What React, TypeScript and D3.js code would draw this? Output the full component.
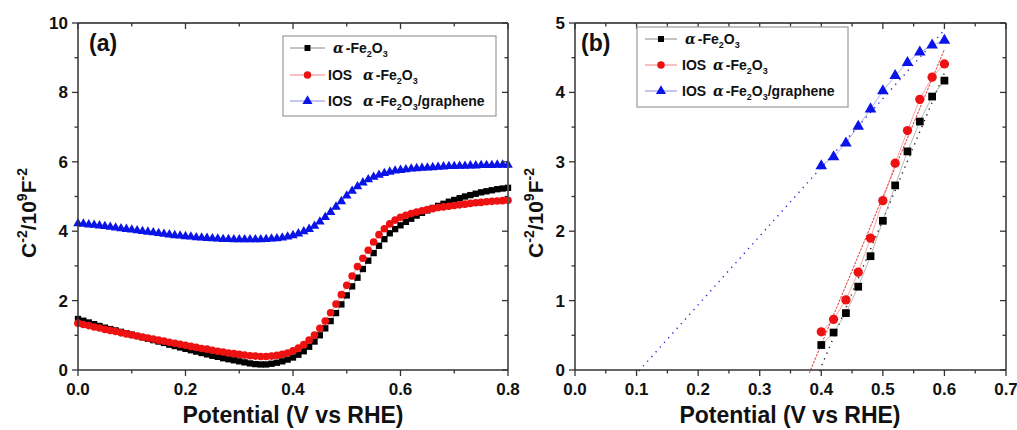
import React from "react";
import * as d3 from "d3";

// ---------- data ----------
const potentialA: number[] = d3.range(0, 81).map((i) => +(i * 0.01).toFixed(2));

const fe2o3A: number[] = [
  1.47, 1.42, 1.37, 1.32, 1.27, 1.22, 1.18, 1.14, 1.10, 1.06,
  1.02, 0.98, 0.94, 0.90, 0.86, 0.82, 0.78, 0.73, 0.69, 0.65,
  0.61, 0.57, 0.53, 0.49, 0.45, 0.41, 0.38, 0.34, 0.31, 0.28,
  0.25, 0.22, 0.19, 0.17, 0.16, 0.16, 0.18, 0.21, 0.25, 0.30,
  0.36, 0.44, 0.54, 0.67, 0.82, 1.00, 1.20, 1.41, 1.64, 1.89,
  2.15, 2.41, 2.66, 2.91, 3.15, 3.37, 3.58, 3.77, 3.94, 4.06,
  4.17, 4.27, 4.36, 4.45, 4.53, 4.60, 4.67, 4.73, 4.79, 4.85,
  4.90, 4.95, 5.00, 5.04, 5.08, 5.12, 5.15, 5.18, 5.21, 5.23,
  5.25,
];

const iosA: number[] = [
  1.35, 1.31, 1.28, 1.24, 1.21, 1.17, 1.14, 1.11, 1.07, 1.04,
  1.01, 0.98, 0.95, 0.92, 0.89, 0.86, 0.83, 0.80, 0.77, 0.74,
  0.71, 0.68, 0.65, 0.62, 0.60, 0.57, 0.54, 0.52, 0.49, 0.47,
  0.45, 0.43, 0.41, 0.40, 0.39, 0.39, 0.40, 0.42, 0.45, 0.49,
  0.55, 0.63, 0.73, 0.86, 1.01, 1.20, 1.41, 1.65, 1.90, 2.17,
  2.44, 2.71, 2.98, 3.22, 3.45, 3.69, 3.90, 4.07, 4.21, 4.32,
  4.40, 4.46, 4.51, 4.55, 4.59, 4.62, 4.65, 4.68, 4.70, 4.72,
  4.74, 4.76, 4.78, 4.80, 4.82, 4.83, 4.85, 4.86, 4.87, 4.88,
  4.89,
];

const grapheneA: number[] = [
  4.22, 4.21, 4.19, 4.18, 4.16, 4.14, 4.12, 4.10, 4.08, 4.06,
  4.04, 4.02, 4.00, 3.98, 3.96, 3.94, 3.92, 3.90, 3.88, 3.87,
  3.85, 3.84, 3.82, 3.81, 3.80, 3.79, 3.78, 3.77, 3.77, 3.76,
  3.76, 3.76, 3.76, 3.76, 3.76, 3.77, 3.78, 3.79, 3.81, 3.84,
  3.88, 3.93, 3.99, 4.06, 4.15, 4.27, 4.40, 4.55, 4.70, 4.86,
  5.02, 5.16, 5.29, 5.40, 5.49, 5.56, 5.62, 5.67, 5.71, 5.74,
  5.76, 5.78, 5.80, 5.81, 5.82, 5.83, 5.84, 5.85, 5.86, 5.87,
  5.87, 5.88, 5.88, 5.89, 5.89, 5.90, 5.90, 5.90, 5.91, 5.91,
  5.91,
];

const potentialB: number[] = [0.40, 0.42, 0.44, 0.46, 0.48, 0.50, 0.52, 0.54, 0.56, 0.58, 0.60];
const fe2o3B: number[] = [0.36, 0.54, 0.82, 1.20, 1.64, 2.15, 2.66, 3.15, 3.58, 3.94, 4.17];
const iosB: number[] = [0.55, 0.73, 1.01, 1.41, 1.90, 2.44, 2.98, 3.45, 3.90, 4.22, 4.41];
const grapheneB: number[] = [2.94, 3.07, 3.27, 3.51, 3.76, 4.02, 4.24, 4.43, 4.58, 4.68, 4.75];

// linear fit lines (start and end points) in panel (b)
const fitFe2o3: [number, number][] = [[0.393, -0.1], [0.6, 4.28]];
const fitIos: [number, number][] = [[0.378, -0.1], [0.6, 4.62]];
const fitGraphene: [number, number][] = [[0.09, -0.15], [0.6, 4.9]];

const xTicksA = [0, 0.2, 0.4, 0.6, 0.8];
const yTicksA = [0, 2, 4, 6, 8, 10];
const xTicksB = [0, 0.1, 0.2, 0.3, 0.4, 0.5, 0.6, 0.7];
const yTicksB = [0, 1, 2, 3, 4, 5];

// ---------- styling ----------
const FONT = "Arial, 'Liberation Sans', Helvetica, sans-serif";
const AXIS = "#333";

type Kind = "square" | "circle" | "triangle";
const symType = { square: d3.symbolSquare, circle: d3.symbolCircle, triangle: d3.symbolTriangle };

function Marker({ kind, x, y, size, fill }: { kind: Kind; x: number; y: number; size: number; fill: string }) {
  const p = d3.symbol().type(symType[kind]).size(size)();
  return <path d={p || ""} transform={`translate(${x},${y})`} fill={fill} />;
}

function Axes({ x, y, xTicks, yTicks, xMinor, yMinor, xFmt }: any) {
  const [x0, x1] = x.range();
  const [y0, y1] = y.range();
  const MAJ = 6, MIN = 3.5;
  return (
    <g>
      <line x1={x0} x2={x1} y1={y1} y2={y1} stroke="#222" strokeWidth={1.5} />
      <line x1={x1} x2={x1} y1={y1} y2={y0} stroke="#555" strokeWidth={1.8} />
      <line x1={x0} x2={x1} y1={y0} y2={y0} stroke={AXIS} strokeWidth={1.5} />
      <line x1={x0} x2={x0} y1={y1} y2={y0} stroke={AXIS} strokeWidth={1.5} />
      {xMinor.map((t: number, i: number) => {
        const major = xTicks.some((m: number) => Math.abs(m - t) < 1e-9);
        const L = major ? MAJ : MIN;
        return (
          <g key={"xt" + i}>
            <line x1={x(t)} x2={x(t)} y1={y0} y2={y0 + L} stroke={AXIS} strokeWidth={1.3} />
            <line x1={x(t)} x2={x(t)} y1={y1} y2={y1 + L} stroke={AXIS} strokeWidth={1.3} />
          </g>
        );
      })}
      {yMinor.map((t: number, i: number) => {
        const major = yTicks.some((m: number) => Math.abs(m - t) < 1e-9);
        const L = major ? MAJ : MIN;
        return (
          <g key={"yt" + i}>
            <line x1={x0 - L} x2={x0} y1={y(t)} y2={y(t)} stroke={AXIS} strokeWidth={1.3} />
            <line x1={x1 - L} x2={x1} y1={y(t)} y2={y(t)} stroke={AXIS} strokeWidth={1.3} />
          </g>
        );
      })}
      {xTicks.map((t: number, i: number) => (
        <text key={"xl" + i} x={x(t)} y={y0 + 25} textAnchor="middle" fontFamily={FONT} fontWeight="bold" fontSize={17} fill="#111">
          {xFmt(t)}
        </text>
      ))}
      {yTicks.map((t: number, i: number) => (
        <text key={"yl" + i} x={x0 - 10} y={y(t) + 6} textAnchor="end" fontFamily={FONT} fontWeight="bold" fontSize={17} fill="#111">
          {t}
        </text>
      ))}
    </g>
  );
}

function YTitle({ x, y }: { x: number; y: number }) {
  return (
    <text transform={`translate(${x},${y}) rotate(-90)`} textAnchor="middle" fontFamily={FONT} fontWeight="bold" fontSize={21} fill="#111">
      C<tspan dy={-9} fontSize={14}>-2</tspan>
      <tspan dy={9}>/10</tspan>
      <tspan dy={-9} fontSize={14}>9</tspan>
      <tspan dy={9}>F</tspan>
      <tspan dy={-9} fontSize={14}>-2</tspan>
    </text>
  );
}

function LegendLabel({ x, y, ios, graphene, alphaX }: { x: number; y: number; ios: boolean; graphene: boolean; alphaX: number }) {
  return (
    <text x={x} y={y} fontFamily={FONT} fontWeight="bold" fontSize={14} fill="#111">
      {ios ? <tspan>IOS</tspan> : null}
      <tspan x={alphaX} fontFamily="'DejaVu Serif', serif" fontStyle="italic" fontWeight="bold">α</tspan>
      <tspan dx={2}>-Fe</tspan>
      <tspan dy={4} fontSize={9}>2</tspan>
      <tspan dy={-4}>O</tspan>
      <tspan dy={4} fontSize={9}>3</tspan>
      {graphene ? <tspan dy={-4}>/graphene</tspan> : null}
    </text>
  );
}

function Legend({ x, y, w, h, lineX0, lineX1, textX, alpha1, alphaX, rows, sizes }: any) {
  const entries = [
    { kind: "square" as Kind, fill: "#000", line: "#888", ios: false, g: false },
    { kind: "circle" as Kind, fill: "#ee1111", line: "#f08080", ios: true, g: false },
    { kind: "triangle" as Kind, fill: "#0a14e6", line: "#8a8ae8", ios: true, g: true },
  ];
  return (
    <g>
      <rect x={x} y={y} width={w} height={h} fill="#fff" stroke="#999" strokeWidth={1.2} />
      {entries.map((e, i) => (
        <g key={i}>
          <line x1={lineX0} x2={lineX1} y1={rows[i]} y2={rows[i]} stroke={e.line} strokeWidth={1} />
          <Marker kind={e.kind} x={(lineX0 + lineX1) / 2} y={rows[i]} size={sizes[i]} fill={e.fill} />
          <LegendLabel x={textX} y={rows[i] + 5} ios={e.ios} graphene={e.g} alphaX={e.ios ? alphaX : alpha1} />
        </g>
      ))}
    </g>
  );
}

export default function App() {
  const xa = d3.scaleLinear().domain([0, 0.8]).range([78, 508]);
  const ya = d3.scaleLinear().domain([0, 10]).range([370, 23]);
  const xb = d3.scaleLinear().domain([0, 0.7]).range([575, 1006]);
  const yb = d3.scaleLinear().domain([0, 5]).range([370, 23]);

  const lineA = (vals: number[]) =>
    d3.line<number>().x((_, i) => xa(potentialA[i])).y((v) => ya(v))(vals) || "";
  const lineB = (vals: number[]) =>
    d3.line<number>().x((_, i) => xb(potentialB[i])).y((v) => yb(v))(vals) || "";
  const fitPath = (pts: [number, number][]) =>
    d3.line<[number, number]>().x((p) => xb(p[0])).y((p) => yb(p[1]))(pts) || "";

  const seriesA = [
    { vals: fe2o3A, kind: "square" as Kind, fill: "#000", line: "#888", size: 40 },
    { vals: iosA, kind: "circle" as Kind, fill: "#ee1111", line: "#f08080", size: 46 },
    { vals: grapheneA, kind: "triangle" as Kind, fill: "#0a14e6", line: "#8a8ae8", size: 40 },
  ];
  const seriesB = [
    { vals: fe2o3B, kind: "square" as Kind, fill: "#000", line: "#999", size: 60 },
    { vals: iosB, kind: "circle" as Kind, fill: "#ee1111", line: "#f08080", size: 68 },
    { vals: grapheneB, kind: "triangle" as Kind, fill: "#0a14e6", line: "#8a8ae8", size: 58 },
  ];

  const xMinorA = d3.range(0, 9).map((i) => i * 0.1);
  const yMinorA = d3.range(0, 11);
  const xMinorB = d3.range(0, 15).map((i) => i * 0.05);
  const yMinorB = d3.range(0, 11).map((i) => i * 0.5);

  return (
    <svg width={1017} height={430} style={{ position: "absolute", left: 0, top: 0, background: "#fff" }}>
      <rect width={1017} height={430} fill="#fff" />
      <defs>
        <clipPath id="clipB">
          <rect x={575} y={23} width={431} height={350} />
        </clipPath>
      </defs>

      {/* Panel (a) */}
      <g>
        {seriesA.map((s, k) => (
          <path key={"la" + k} d={lineA(s.vals)} fill="none" stroke={s.line} strokeWidth={0.8} />
        ))}
        {seriesA.map((s, k) => (
          <g key={"ma" + k}>
            {s.vals.map((v, i) => (
              <Marker key={i} kind={s.kind} x={xa(potentialA[i])} y={ya(v)} size={s.size} fill={s.fill} />
            ))}
          </g>
        ))}
        <Axes x={xa} y={ya} xTicks={xTicksA} yTicks={yTicksA} xMinor={xMinorA} yMinor={yMinorA} xFmt={(t: number) => t.toFixed(1)} />
        <text x={89} y={51} fontFamily={FONT} fontWeight="bold" fontSize={23} fill="#111">(a)</text>
        <Legend x={283} y={36} w={213} h={80} lineX0={290} lineX1={325} textX={328} alpha1={333} alphaX={363}
          rows={[48, 75, 101]} sizes={[36, 44, 44]} />
        <text x={293} y={423} textAnchor="middle" fontFamily={FONT} fontWeight="bold" fontSize={23} fill="#111">Potential (V vs RHE)</text>
        <YTitle x={36} y={213} />
      </g>

      {/* Panel (b) */}
      <g>
        <g clipPath="url(#clipB)">
          <path d={fitPath(fitGraphene)} fill="none" stroke="#2a2ad0" strokeWidth={1.4} strokeDasharray="1.3 5" />
          <path d={fitPath(fitIos)} fill="none" stroke="#e83030" strokeWidth={1} strokeDasharray="2.5 1.2" />
          <path d={fitPath(fitFe2o3)} fill="none" stroke="#222" strokeWidth={1.4} strokeDasharray="1.3 5" />
        </g>
        {seriesB.map((s, k) => (
          <path key={"lb" + k} d={lineB(s.vals)} fill="none" stroke={s.line} strokeWidth={0.7} />
        ))}
        {seriesB.map((s, k) => (
          <g key={"mb" + k}>
            {s.vals.map((v, i) => (
              <Marker key={i} kind={s.kind} x={xb(potentialB[i])} y={yb(v)} size={s.size} fill={s.fill} />
            ))}
          </g>
        ))}
        <Axes x={xb} y={yb} xTicks={xTicksB} yTicks={yTicksB} xMinor={xMinorB} yMinor={yMinorB} xFmt={(t: number) => t.toFixed(1)} />
        <text x={581} y={51} fontFamily={FONT} fontWeight="bold" fontSize={23} fill="#111">(b)</text>
        <Legend x={637} y={27} w={211} h={80} lineX0={645} lineX1={677} textX={682} alpha1={685} alphaX={713}
          rows={[39, 65, 91]} sizes={[36, 44, 44]} />
        <text x={790} y={423} textAnchor="middle" fontFamily={FONT} fontWeight="bold" fontSize={23} fill="#111">Potential (V vs RHE)</text>
        <YTitle x={543} y={213} />
      </g>
    </svg>
  );
}
